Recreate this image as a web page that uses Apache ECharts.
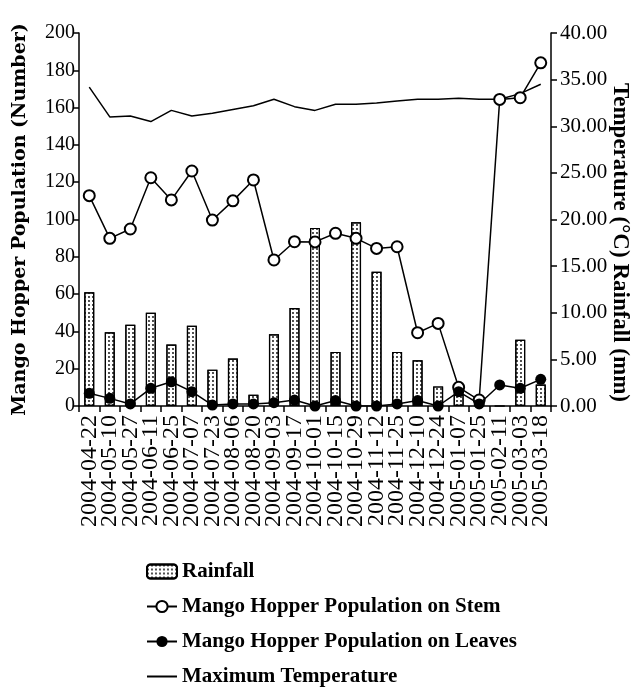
<!DOCTYPE html>
<html>
<head>
<meta charset="utf-8">
<script src="https://cdn.jsdelivr.net/npm/echarts@6/dist/echarts.min.js"></script>
<style>
    html, body { margin: 0; padding: 0; background: #fff; }
    #chart { width: 637px; height: 687px; }
</style>
</head>
<body>
<div id="chart"></div>
<script>
// sampling dates
var dates = ['2004-04-22', '2004-05-10', '2004-05-27', '2004-06-11', '2004-06-25', '2004-07-07',
    '2004-07-23', '2004-08-06', '2004-08-20', '2004-09-03', '2004-09-17', '2004-10-01',
    '2004-10-15', '2004-10-29', '2004-11-12', '2004-11-25', '2004-12-10', '2004-12-24',
    '2005-01-07', '2005-01-25', '2005-02-11', '2005-03-03', '2005-03-18'];

// rainfall (mm), right axis
var rainfall = [12.2, 7.9, 8.7, 10.0, 6.6, 8.6, 3.9, 5.1, 1.2, 7.7, 10.5, 19.1,
    5.8, 19.7, 14.4, 5.8, 4.9, 2.1, 1.2, 0.4, 0, 7.1, 2.3];

// hopper on stem (number), left axis
var stem = [112.8, 89.9, 94.9, 122.4, 110.5, 126, 99.7, 110, 121.2, 78.3, 88.1, 88,
    92.6, 89.9, 84.5, 85.4, 39.3, 44.3, 10, 3.2, 164.4, 165.3, 184];

// hopper on leaves (number), left axis
var leaves = [6.8, 4.1, 1.1, 9.5, 13, 7.7, 0.5, 1.1, 1.1, 1.8, 3.2, 0, 2.9, 0,
    0, 1.1, 2.9, 0, 7.7, 1.1, 11.3, 9.5, 14.3];

// maximum temperature (deg C), right axis
var maxTemp = [34.2, 31.0, 31.1, 30.5, 31.7, 31.1, 31.4, 31.8, 32.2, 32.9, 32.1, 31.7,
    32.35, 32.35, 32.5, 32.7, 32.9, 32.9, 33.0, 32.9, 32.9, 33.5, 34.5];

var serif = '"Liberation Serif", "Times New Roman", serif';

var chart = echarts.init(document.getElementById('chart'));

var option = {
    animation: false,
    backgroundColor: '#fff',
    textStyle: { fontFamily: serif, color: '#000' },
    grid: {
        left: 79,
        right: 86,
        top: 33,
        bottom: 281,
        outerBoundsMode: 'none'
    },
    legend: {
        orient: 'vertical',
        left: 146,
        top: 561,
        padding: 0,
        itemWidth: 30,
        itemHeight: 14,
        itemGap: 14,
        data: ['Rainfall', 'Mango Hopper Population on Stem', 'Mango Hopper Population on Leaves',
            { name: 'Maximum Temperature', itemStyle: { opacity: 0 } }],
        textStyle: {
            fontFamily: serif,
            fontWeight: 'bold',
            fontSize: 21,
            color: '#000'
        }
    },
    xAxis: {
        type: 'category',
        data: dates,
        axisLine: { lineStyle: { color: '#000', width: 1.5 } },
        axisTick: { show: true, length: 6, interval: 0, lineStyle: { color: '#000', width: 1.5 } },
        axisLabel: {
            interval: 0,
            rotate: 90,
            fontFamily: serif,
            fontSize: 24,
            color: '#000',
            margin: 9
        }
    },
    yAxis: [{
        type: 'value',
        min: 0,
        max: 200,
        interval: 20,
        name: 'Mango Hopper Population (Number)',
        nameLocation: 'middle',
        nameRotate: 90,
        nameGap: 49,
        nameMoveOverlap: false,
        nameTextStyle: {
            fontFamily: '"DejaVu Serif", serif',
            fontWeight: 'bold',
            fontSize: 19,
            color: '#000'
        },
        splitLine: { show: false },
        axisLine: { show: true, lineStyle: { color: '#000', width: 1.5 } },
        axisTick: { show: true, length: 6, lineStyle: { color: '#000', width: 1.5 } },
        axisLabel: { fontFamily: serif, fontSize: 20, color: '#000', margin: 4 }
    }, {
        type: 'value',
        min: 0,
        max: 40,
        interval: 5,
        position: 'right',
        name: 'Temperature (°C) Rainfall (mm)',
        nameLocation: 'middle',
        nameRotate: -90,
        nameGap: 57,
        nameMoveOverlap: false,
        nameTextStyle: {
            fontFamily: serif,
            fontWeight: 'bold',
            fontSize: 23,
            color: '#000',
            padding: [0, 0, 0, 46]
        },
        splitLine: { show: false },
        axisLine: { show: true, lineStyle: { color: '#000', width: 1.5 } },
        axisTick: { show: true, length: 6, lineStyle: { color: '#000', width: 1.5 } },
        axisLabel: {
            fontFamily: serif,
            fontSize: 21,
            color: '#000',
            margin: 9,
            formatter: function (v) { return v.toFixed(2); }
        }
    }],
    series: [{
        name: 'Rainfall',
        type: 'bar',
        yAxisIndex: 1,
        barWidth: 10,
        data: rainfall,
        itemStyle: {
            color: '#fff',
            borderColor: '#000',
            borderWidth: 1.2,
            decal: {
                symbol: 'circle',
                symbolSize: 0.9,
                color: '#000',
                dashArrayX: [2, 2],
                dashArrayY: [2, 2]
            }
        }
    }, {
        name: 'Mango Hopper Population on Stem',
        type: 'line',
        yAxisIndex: 0,
        data: stem,
        symbol: 'emptyCircle',
        symbolSize: 11,
        lineStyle: { color: '#000', width: 1.5 },
        itemStyle: { color: '#000', borderWidth: 1.5 },
        z: 3
    }, {
        name: 'Mango Hopper Population on Leaves',
        type: 'line',
        yAxisIndex: 0,
        data: leaves,
        symbol: 'circle',
        symbolSize: 11,
        lineStyle: { color: '#000', width: 1.5 },
        itemStyle: { color: '#000' },
        z: 4
    }, {
        name: 'Maximum Temperature',
        type: 'line',
        yAxisIndex: 1,
        data: maxTemp,
        symbol: 'none',
        lineStyle: { color: '#000', width: 1.5 },
        itemStyle: { color: '#000' }
    }]
};

chart.setOption(option);
</script>
</body>
</html>
